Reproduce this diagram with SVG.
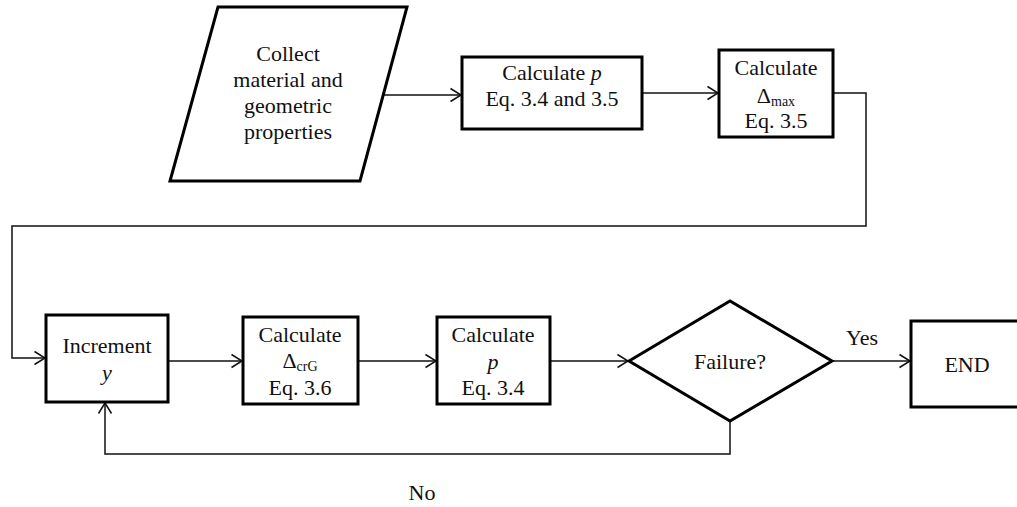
<svg xmlns="http://www.w3.org/2000/svg" width="1017" height="507" viewBox="0 0 1017 507" font-family="'Liberation Serif', 'DejaVu Serif', serif">
<style>
.node{fill:#fff;stroke:#000;stroke-width:3;stroke-linejoin:miter}
.conn{fill:none;stroke:#111;stroke-width:1.5}
text{font-family:'Liberation Serif', serif;font-size:22px;fill:#111;text-anchor:middle}
.it{font-style:italic}
.sub{font-size:14px}
</style>
<defs>
<marker id="arr" markerUnits="userSpaceOnUse" viewBox="0 0 11 14" refX="10.5" refY="7" markerWidth="11" markerHeight="14" orient="auto" overflow="visible">
<path d="M0,0.5 L10.5,7 L0,13.5" fill="none" stroke="#111" stroke-width="1.5"/>
</marker>
</defs>
<rect width="1017" height="507" fill="#fff"/>
<g id="connectors">
<line class="conn" x1="383" y1="95" x2="461" y2="95" marker-end="url(#arr)"/>
<line class="conn" x1="642" y1="93" x2="718" y2="93" marker-end="url(#arr)"/>
<polyline class="conn" points="833,93 866,93 866,226 12,226 12,358 45,358" marker-end="url(#arr)"/>
<line class="conn" x1="168" y1="361" x2="242" y2="361" marker-end="url(#arr)"/>
<line class="conn" x1="358" y1="361" x2="436" y2="361" marker-end="url(#arr)"/>
<line class="conn" x1="550" y1="361" x2="628" y2="361" marker-end="url(#arr)"/>
<line class="conn" x1="832" y1="361" x2="910" y2="361" marker-end="url(#arr)"/>
<polyline class="conn" points="730,421 730,454 105,454 105,403" marker-end="url(#arr)"/>
<text x="862" y="345">Yes</text>
<text x="422" y="500">No</text>
</g>
<g id="collect">
<polygon class="node" points="218,7 407,7 360,181 170,181"/>
<text x="288" y="61">Collect</text>
<text x="288" y="87">material and</text>
<text x="288" y="113">geometric</text>
<text x="288" y="139">properties</text>
</g>
<g id="calc-p1">
<rect class="node" x="462" y="57" width="180" height="72"/>
<text x="552" y="80">Calculate <tspan class="it">p</tspan></text>
<text x="552" y="106">Eq. 3.4 and 3.5</text>
</g>
<g id="calc-dmax">
<rect class="node" x="719" y="50" width="114" height="87"/>
<text x="776" y="75">Calculate</text>
<text x="776" y="103">Δ<tspan class="sub" dy="3">max</tspan></text>
<text x="776" y="128">Eq. 3.5</text>
</g>
<g id="increment">
<rect class="node" x="46" y="315" width="122" height="87"/>
<text x="107" y="353">Increment</text>
<text x="107" y="380" class="it">y</text>
</g>
<g id="calc-dcrg">
<rect class="node" x="243" y="317" width="115" height="87"/>
<text x="300" y="342">Calculate</text>
<text x="300" y="368">Δ<tspan class="sub" dy="3">crG</tspan></text>
<text x="300" y="395">Eq. 3.6</text>
</g>
<g id="calc-p2">
<rect class="node" x="437" y="317" width="113" height="87"/>
<text x="493" y="342">Calculate</text>
<text x="493" y="369" class="it">p</text>
<text x="493" y="395">Eq. 3.4</text>
</g>
<g id="failure">
<polygon class="node" points="629,361 730,301 832,361 730,421"/>
<text x="730" y="369">Failure?</text>
</g>
<g id="end">
<rect class="node" x="911" y="321" width="120" height="86"/>
<text x="967" y="372">END</text>
</g>
</svg>
